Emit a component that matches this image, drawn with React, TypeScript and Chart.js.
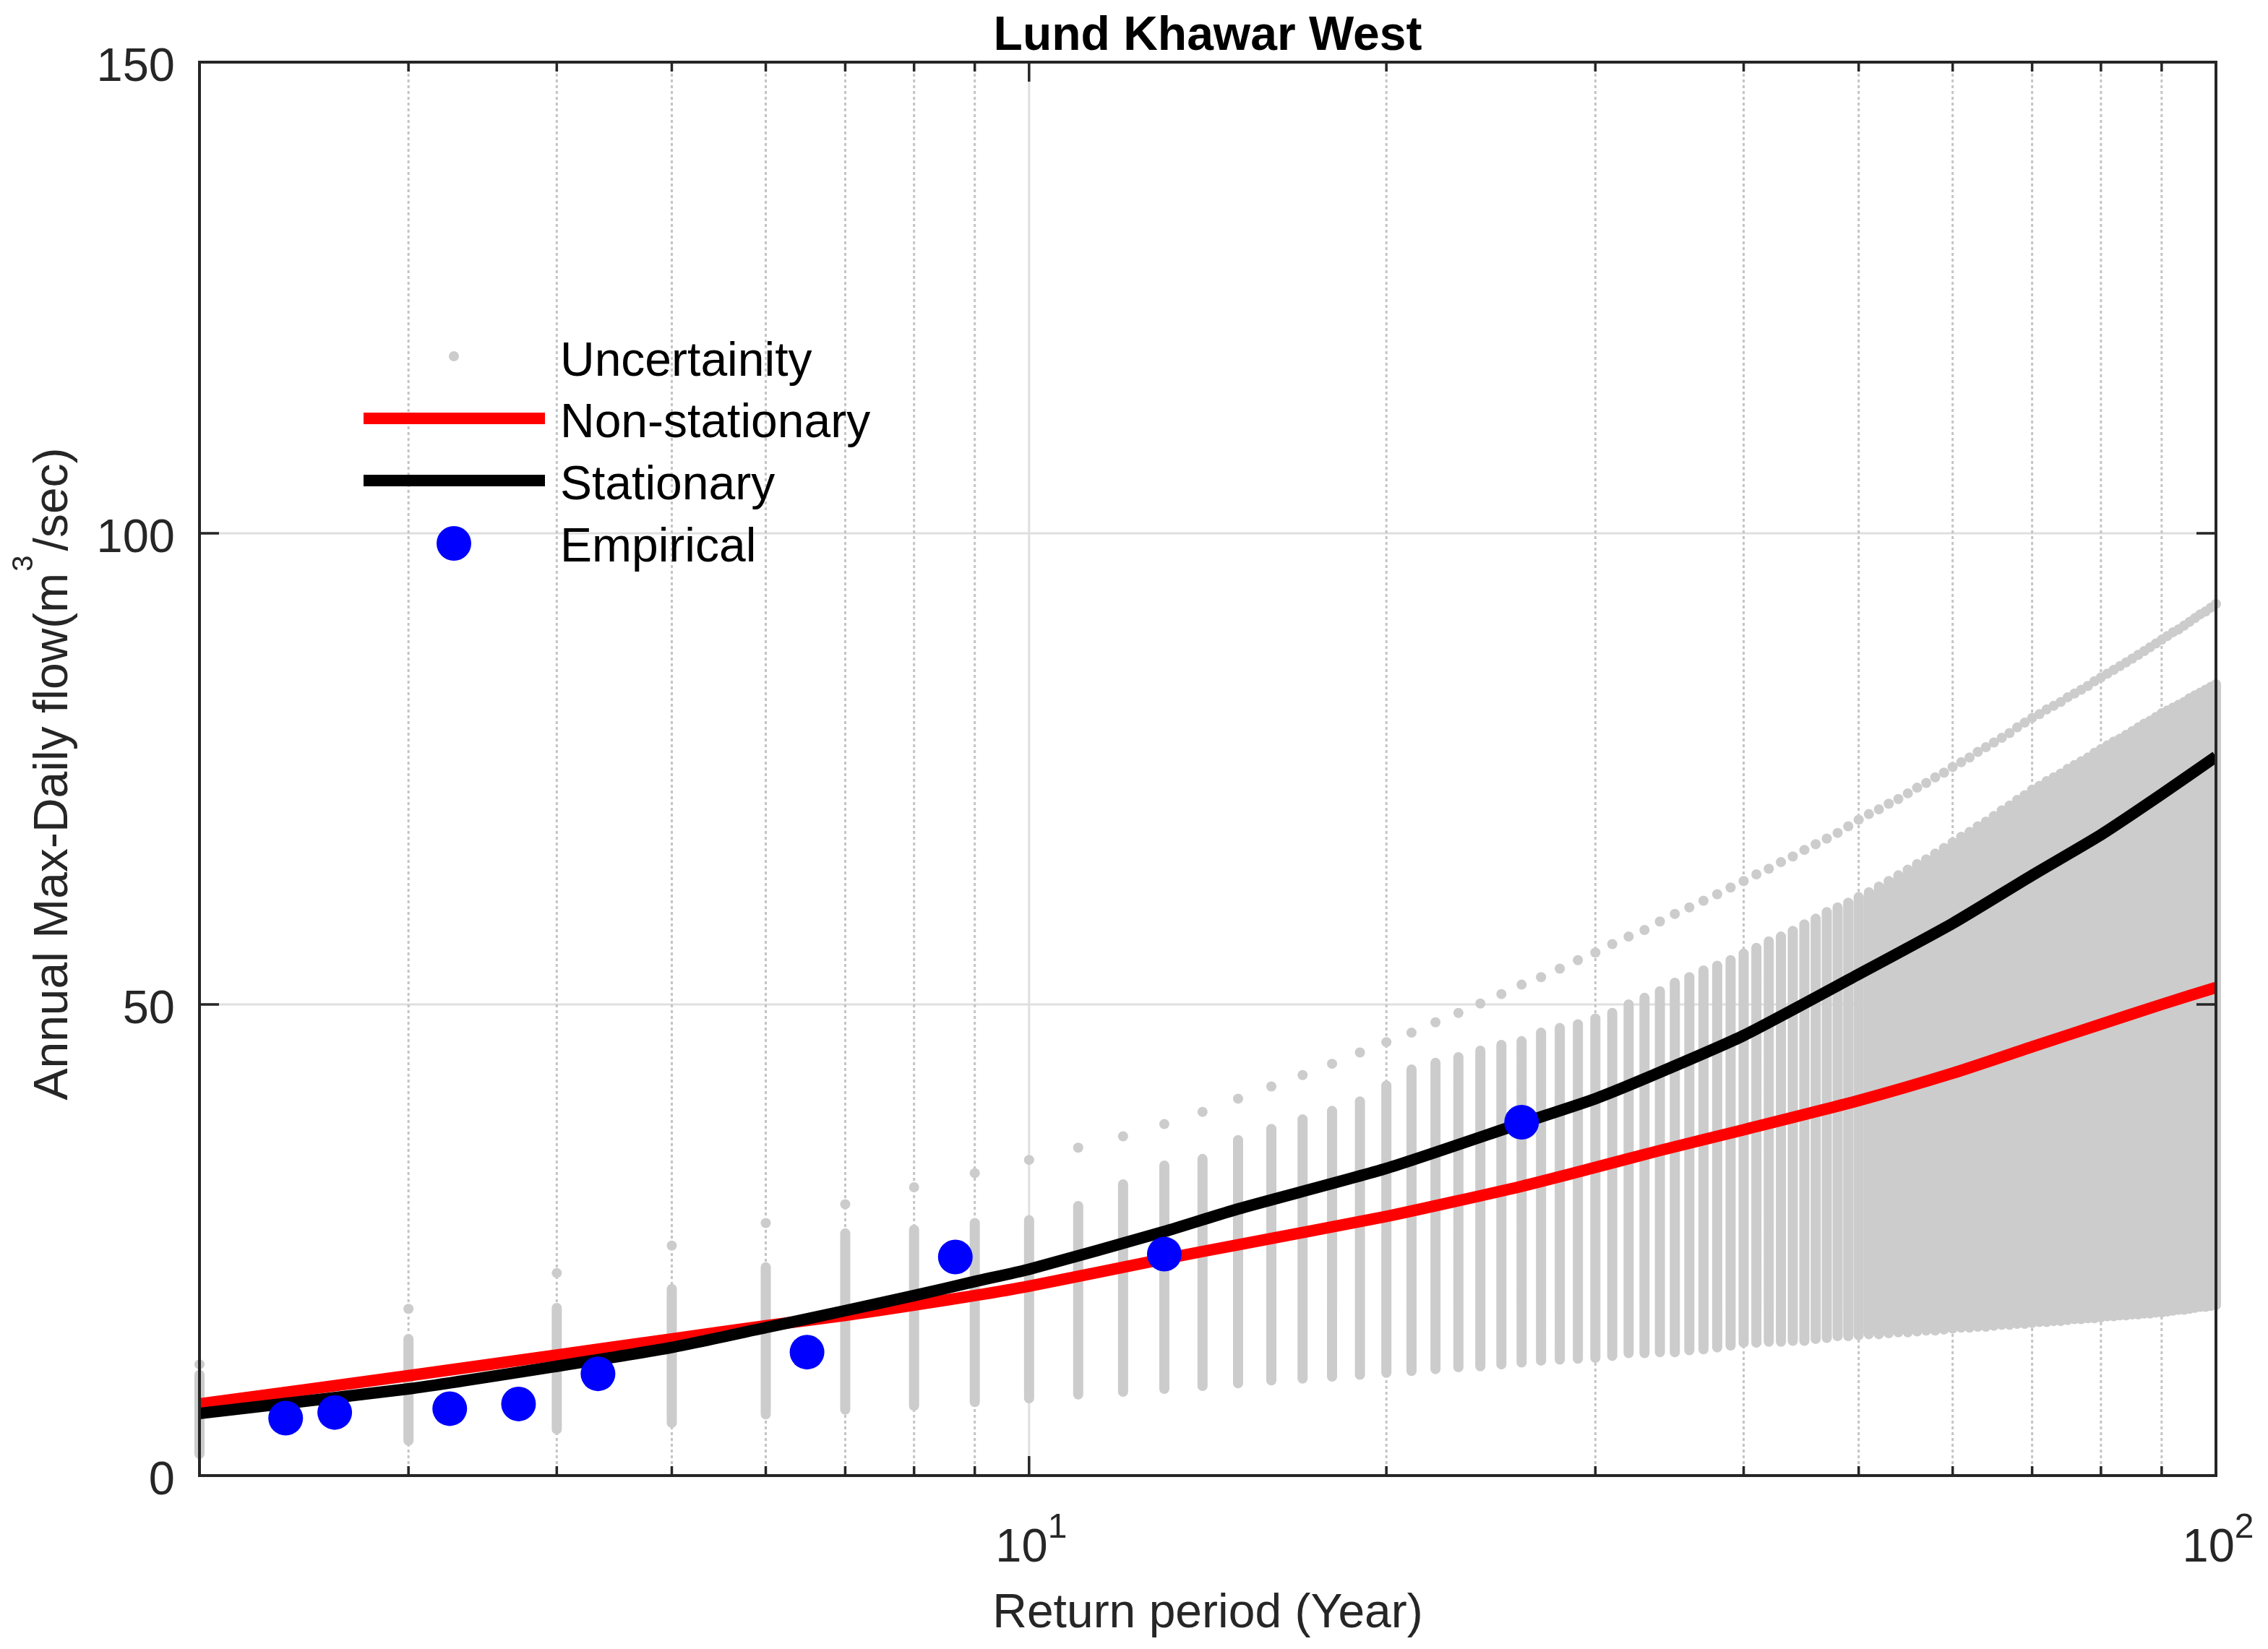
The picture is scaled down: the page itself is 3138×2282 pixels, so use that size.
import React, { useEffect, useRef } from "react";
import { Chart, registerables } from "chart.js";

Chart.register(...registerables);

const W = 3138;
const H = 2282;
const FONT = '"Liberation Sans", Arial, Helvetica, sans-serif';
const AXIS_COLOR = "#262626";

const chartTitle = "Lund Khawar West";
const xAxisTitle = "Return period (Year)";
const yAxisTitleParts = ["Annual Max-Daily flow(m", "3", "/sec)"];
const legendLabels = ["Uncertainity", "Non-stationary", "Stationary", "Empirical"];

const yTickValues = [0, 50, 100, 150];
const xMajorTickValues = [10, 100];
const xMinorTickValues = [2, 3, 4, 5, 6, 7, 8, 9, 20, 30, 40, 50, 60, 70, 80, 90];

// Uncertainty (bootstrap) columns, one per integer return period
const returnPeriods = [
  2, 3, 4, 5, 6, 7, 8, 9, 10,
  11, 12, 13, 14, 15, 16, 17, 18, 19, 20,
  21, 22, 23, 24, 25, 26, 27, 28, 29, 30,
  31, 32, 33, 34, 35, 36, 37, 38, 39, 40,
  41, 42, 43, 44, 45, 46, 47, 48, 49, 50,
  51, 52, 53, 54, 55, 56, 57, 58, 59, 60,
  61, 62, 63, 64, 65, 66, 67, 68, 69, 70,
  71, 72, 73, 74, 75, 76, 77, 78, 79, 80,
  81, 82, 83, 84, 85, 86, 87, 88, 89, 90,
  91, 92, 93, 94, 95, 96, 97, 98, 99, 100,
];
const uncLow = [
  2.3, 3.7, 4.9, 5.6, 6.5, 7.0, 7.4, 7.8, 8.2,
  8.6, 8.9, 9.2, 9.5, 9.8, 10.1, 10.3, 10.5, 10.7, 10.9,
  11.1, 11.3, 11.5, 11.6, 11.8, 12.0, 12.2, 12.3, 12.4, 12.5,
  12.7, 13.0, 13.0, 13.1, 13.1, 13.3, 13.4, 13.6, 13.8, 14.1,
  14.1, 14.2, 14.2, 14.3, 14.3, 14.5, 14.6, 14.8, 14.8, 14.9,
  15.0, 15.0, 15.1, 15.2, 15.2, 15.3, 15.4, 15.4, 15.5, 15.6,
  15.7, 15.7, 15.8, 15.8, 15.9, 16.0, 16.0, 16.1, 16.1, 16.2,
  16.3, 16.3, 16.4, 16.4, 16.5, 16.6, 16.6, 16.7, 16.7, 16.8,
  16.9, 16.9, 17.0, 17.0, 17.1, 17.1, 17.2, 17.2, 17.3, 17.3,
  17.4, 17.5, 17.6, 17.6, 17.7, 17.8, 17.9, 17.9, 18.0, 18.1,
];
const uncHigh = [
  10.7, 14.5, 17.8, 19.8, 22.1, 25.7, 26.1, 26.8, 27.1,
  28.6, 30.9, 32.9, 33.6, 35.6, 36.8, 37.8, 38.7, 39.7, 41.4,
  43.1, 43.8, 44.4, 45.1, 45.7, 46.1, 47.0, 47.5, 47.9, 48.5,
  49.1, 50.0, 50.7, 51.4, 52.3, 52.9, 53.6, 54.1, 54.7, 55.4,
  56.0, 56.7, 57.2, 57.8, 58.5, 59.1, 59.8, 60.3, 60.8, 61.4,
  61.9, 62.5, 63.1, 63.7, 64.3, 64.9, 65.4, 66.0, 66.6, 67.2,
  67.8, 68.3, 68.9, 69.4, 70.0, 70.6, 71.1, 71.7, 72.2, 72.8,
  73.2, 73.7, 74.1, 74.5, 75.0, 75.4, 75.8, 76.2, 76.7, 77.1,
  77.5, 77.9, 78.2, 78.6, 79.0, 79.4, 79.8, 80.1, 80.5, 80.9,
  81.2, 81.5, 81.8, 82.1, 82.5, 82.8, 83.1, 83.4, 83.7, 84.0,
];
const uncTop = [
  11.8, 17.7, 21.5, 24.4, 26.8, 28.8, 30.6, 32.1, 33.5,
  34.8, 36.0, 37.3, 38.6, 40.0, 41.3, 42.5, 43.7, 44.9, 46.0,
  47.0, 48.1, 49.1, 50.1, 51.1, 52.1, 52.9, 53.8, 54.7, 55.5,
  56.4, 57.2, 57.9, 58.8, 59.6, 60.3, 61.0, 61.7, 62.4, 63.1,
  63.8, 64.4, 65.1, 65.7, 66.4, 67.0, 67.6, 68.2, 68.9, 69.6,
  70.2, 70.7, 71.3, 71.8, 72.4, 73.0, 73.5, 74.1, 74.6, 75.2,
  75.7, 76.2, 76.8, 77.3, 77.8, 78.3, 78.8, 79.4, 79.9, 80.4,
  80.8, 81.3, 81.7, 82.1, 82.6, 83.0, 83.4, 83.8, 84.3, 84.7,
  85.1, 85.5, 85.9, 86.3, 86.7, 87.1, 87.5, 87.9, 88.3, 88.7,
  89.1, 89.5, 89.8, 90.2, 90.6, 91.0, 91.4, 91.7, 92.1, 92.5,
];

// Fitted quantile curves
const curveT = [2, 3, 4, 5, 6, 7, 8, 9, 10, 13, 15, 20, 26, 30, 34, 40, 50, 60, 70, 80, 90, 100];
const nonStationary = [7.6, 10.6, 12.8, 14.5, 15.9, 17.0, 18.1, 19.1, 20.1, 23.0, 24.5, 27.5, 30.7, 32.7, 34.5, 36.7, 39.8, 42.7, 45.5, 47.9, 50.0, 51.8];
const stationary = [6.6, 9.2, 11.6, 13.6, 15.7, 17.5, 19.1, 20.6, 21.9, 25.9, 28.3, 32.6, 37.4, 40.0, 42.8, 46.7, 53.2, 58.6, 63.7, 68.0, 72.3, 76.3];

// Empirical (plotting position) points
const empiricalT = [2.364, 2.6, 3.25, 3.714, 4.333, 6.5, 8.667, 13, 26];
const empiricalQ = [6.1, 6.7, 7.1, 7.6, 10.8, 13.1, 23.2, 23.5, 37.5];

const GRAY = "#cccccc";
const RED = "#ff0000";
const BLACK = "#000000";
const BLUE = "#0000ff";

const matlabFrame = {
  id: "matlabFrame",
  beforeDatasetsDraw(chart: any) {
    const { ctx, chartArea: a, scales } = chart;
    const x = scales.x;
    const y = scales.y;
    ctx.save();
    ctx.beginPath();
    ctx.rect(a.left, a.top, a.right - a.left, a.bottom - a.top);
    ctx.clip();
    ctx.lineWidth = 3;
    ctx.strokeStyle = "#dfdfdf";
    ctx.setLineDash([]);
    yTickValues.forEach((v) => {
      const p = y.getPixelForValue(v);
      ctx.beginPath();
      ctx.moveTo(a.left, p);
      ctx.lineTo(a.right, p);
      ctx.stroke();
    });
    xMajorTickValues.forEach((v) => {
      const p = x.getPixelForValue(v);
      ctx.beginPath();
      ctx.moveTo(p, a.top);
      ctx.lineTo(p, a.bottom);
      ctx.stroke();
    });
    ctx.strokeStyle = "#c4c4c4";
    ctx.setLineDash([4, 4]);
    xMinorTickValues.forEach((v) => {
      const p = x.getPixelForValue(v);
      ctx.beginPath();
      ctx.moveTo(p, a.top);
      ctx.lineTo(p, a.bottom);
      ctx.stroke();
    });
    ctx.restore();
  },
  afterDatasetsDraw(chart: any) {
    const { ctx, chartArea: a, scales } = chart;
    const x = scales.x;
    const y = scales.y;
    ctx.save();
    ctx.setLineDash([]);

    // axis box
    ctx.strokeStyle = AXIS_COLOR;
    ctx.lineWidth = 4;
    ctx.strokeRect(a.left, a.top, a.right - a.left, a.bottom - a.top);

    // inside ticks
    ctx.lineWidth = 3.5;
    const majorLen = 27;
    const minorLen = 13;
    const drawXTick = (v: number, len: number) => {
      const p = x.getPixelForValue(v);
      if (Math.abs(p - a.left) < 2 || Math.abs(p - a.right) < 2) return;
      ctx.beginPath();
      ctx.moveTo(p, a.bottom);
      ctx.lineTo(p, a.bottom - len);
      ctx.moveTo(p, a.top);
      ctx.lineTo(p, a.top + len);
      ctx.stroke();
    };
    xMinorTickValues.forEach((v) => drawXTick(v, minorLen));
    xMajorTickValues.forEach((v) => drawXTick(v, majorLen));
    yTickValues.forEach((v) => {
      const p = y.getPixelForValue(v);
      if (Math.abs(p - a.top) < 2 || Math.abs(p - a.bottom) < 2) return;
      ctx.beginPath();
      ctx.moveTo(a.left, p);
      ctx.lineTo(a.left + majorLen, p);
      ctx.moveTo(a.right, p);
      ctx.lineTo(a.right - majorLen, p);
      ctx.stroke();
    });

    // y tick labels
    ctx.fillStyle = AXIS_COLOR;
    ctx.font = `65px ${FONT}`;
    ctx.textAlign = "right";
    ctx.textBaseline = "alphabetic";
    yTickValues.forEach((v) => {
      const p = y.getPixelForValue(v);
      ctx.fillText(String(v), a.left - 34, p + 26);
    });

    // x tick labels (10^n)
    ctx.textAlign = "left";
    xMajorTickValues.forEach((v) => {
      const p = x.getPixelForValue(v);
      const exp = String(Math.round(Math.log10(v)));
      ctx.font = `65px ${FONT}`;
      const wb = ctx.measureText("10").width;
      ctx.font = `48px ${FONT}`;
      const we = ctx.measureText(exp).width;
      const start = p - (wb + we) / 2 + 3;
      ctx.font = `65px ${FONT}`;
      ctx.fillText("10", start, a.bottom + 119);
      ctx.font = `48px ${FONT}`;
      ctx.fillText(exp, start + wb, a.bottom + 86);
    });

    // x axis title
    ctx.font = `66px ${FONT}`;
    ctx.textAlign = "center";
    ctx.fillText(xAxisTitle, (a.left + a.right) / 2, 2252);

    // y axis title (rotated, with superscript)
    ctx.save();
    ctx.translate(93, 1071);
    ctx.rotate(-Math.PI / 2);
    ctx.textAlign = "left";
    ctx.font = `66px ${FONT}`;
    const w1 = ctx.measureText(yAxisTitleParts[0]).width;
    const w3 = ctx.measureText(yAxisTitleParts[2]).width;
    ctx.font = `40px ${FONT}`;
    const w2 = ctx.measureText(yAxisTitleParts[1]).width + 8;
    const total = w1 + w2 + w3;
    let cx = -total / 2;
    ctx.font = `66px ${FONT}`;
    ctx.fillText(yAxisTitleParts[0], cx, 0);
    cx += w1;
    ctx.font = `40px ${FONT}`;
    ctx.fillText(yAxisTitleParts[1], cx + 2, -48);
    cx += w2;
    ctx.font = `66px ${FONT}`;
    ctx.fillText(yAxisTitleParts[2], cx, 0);
    ctx.restore();

    // chart title
    ctx.fillStyle = "#000000";
    ctx.font = `bold 66px ${FONT}`;
    ctx.textAlign = "center";
    ctx.fillText(chartTitle, (a.left + a.right) / 2, 69);

    // legend
    const lx0 = 503;
    const lx1 = 754;
    const lmid = 628;
    const textX = 775;
    const rows = [493, 579, 665, 752];
    ctx.fillStyle = GRAY;
    ctx.beginPath();
    ctx.arc(lmid, rows[0], 7, 0, Math.PI * 2);
    ctx.fill();
    ctx.lineCap = "butt";
    ctx.lineWidth = 16;
    ctx.strokeStyle = RED;
    ctx.beginPath();
    ctx.moveTo(lx0, rows[1]);
    ctx.lineTo(lx1, rows[1]);
    ctx.stroke();
    ctx.strokeStyle = BLACK;
    ctx.beginPath();
    ctx.moveTo(lx0, rows[2]);
    ctx.lineTo(lx1, rows[2]);
    ctx.stroke();
    ctx.fillStyle = BLUE;
    ctx.beginPath();
    ctx.arc(lmid, rows[3], 24, 0, Math.PI * 2);
    ctx.fill();

    ctx.fillStyle = "#000000";
    ctx.font = `66px ${FONT}`;
    ctx.textAlign = "left";
    const baselines = [520, 605, 691, 777];
    legendLabels.forEach((t, i) => ctx.fillText(t, textX, baselines[i]));

    ctx.restore();
  },
};

export default function App() {
  const canvasRef = useRef<HTMLCanvasElement | null>(null);

  useEffect(() => {
    document.body.style.margin = "0";
    const canvas = canvasRef.current;
    if (!canvas) return;

    const columnPoints: any[] = [];
    returnPeriods.forEach((t, i) => {
      columnPoints.push({ x: t, y: uncLow[i] });
      columnPoints.push({ x: t, y: uncHigh[i] });
      columnPoints.push({ x: t, y: null });
    });
    const topPoints = returnPeriods.map((t, i) => ({ x: t, y: uncTop[i] }));
    const nsPoints = curveT.map((t, i) => ({ x: t, y: nonStationary[i] }));
    const stPoints = curveT.map((t, i) => ({ x: t, y: stationary[i] }));
    const empPoints = empiricalT.map((t, i) => ({ x: t, y: empiricalQ[i] }));

    const chart = new Chart(canvas, {
      type: "line",
      data: {
        datasets: [
          {
            type: "line",
            label: "Uncertainity",
            data: columnPoints,
            borderColor: GRAY,
            borderWidth: 14,
            borderCapStyle: "round",
            pointRadius: 0,
            spanGaps: false,
            fill: false,
            clip: false,
            order: 5,
          } as any,
          {
            type: "scatter",
            label: "Uncertainity top",
            data: topPoints,
            pointRadius: 7,
            pointBackgroundColor: GRAY,
            pointBorderWidth: 0,
            borderColor: GRAY,
            backgroundColor: GRAY,
            showLine: false,
            clip: false,
            order: 4,
          } as any,
          {
            type: "line",
            label: "Non-stationary",
            data: nsPoints,
            borderColor: RED,
            borderWidth: 16,
            borderJoinStyle: "round",
            pointRadius: 0,
            tension: 0.2,
            fill: false,
            order: 3,
          } as any,
          {
            type: "line",
            label: "Stationary",
            data: stPoints,
            borderColor: BLACK,
            borderWidth: 16,
            borderJoinStyle: "round",
            pointRadius: 0,
            tension: 0.2,
            fill: false,
            order: 2,
          } as any,
          {
            type: "scatter",
            label: "Empirical",
            data: empPoints,
            pointRadius: 24,
            pointBackgroundColor: BLUE,
            pointBorderWidth: 0,
            backgroundColor: BLUE,
            borderColor: BLUE,
            showLine: false,
            clip: false,
            order: 1,
          } as any,
        ],
      },
      options: {
        responsive: false,
        maintainAspectRatio: false,
        animation: false,
        devicePixelRatio: 1,
        layout: { padding: { top: 86, right: 72, left: 0, bottom: 0 } },
        plugins: {
          legend: { display: false },
          tooltip: { enabled: false },
          title: { display: false },
        },
        events: [],
        scales: {
          x: {
            type: "logarithmic",
            min: 2,
            max: 100,
            grid: { display: false },
            border: { display: false },
            ticks: { display: false },
            afterFit: (s: any) => {
              s.height = 240;
            },
          },
          y: {
            type: "linear",
            min: 0,
            max: 150,
            grid: { display: false },
            border: { display: false },
            ticks: { display: false },
            afterFit: (s: any) => {
              s.width = 276;
            },
          },
        },
      } as any,
      plugins: [matlabFrame],
    });

    return () => chart.destroy();
  }, []);

  return (
    <div style={{ position: "relative", width: W, height: H, background: "#ffffff" }}>
      <canvas ref={canvasRef} width={W} height={H} style={{ display: "block", width: W, height: H }} />
    </div>
  );
}
